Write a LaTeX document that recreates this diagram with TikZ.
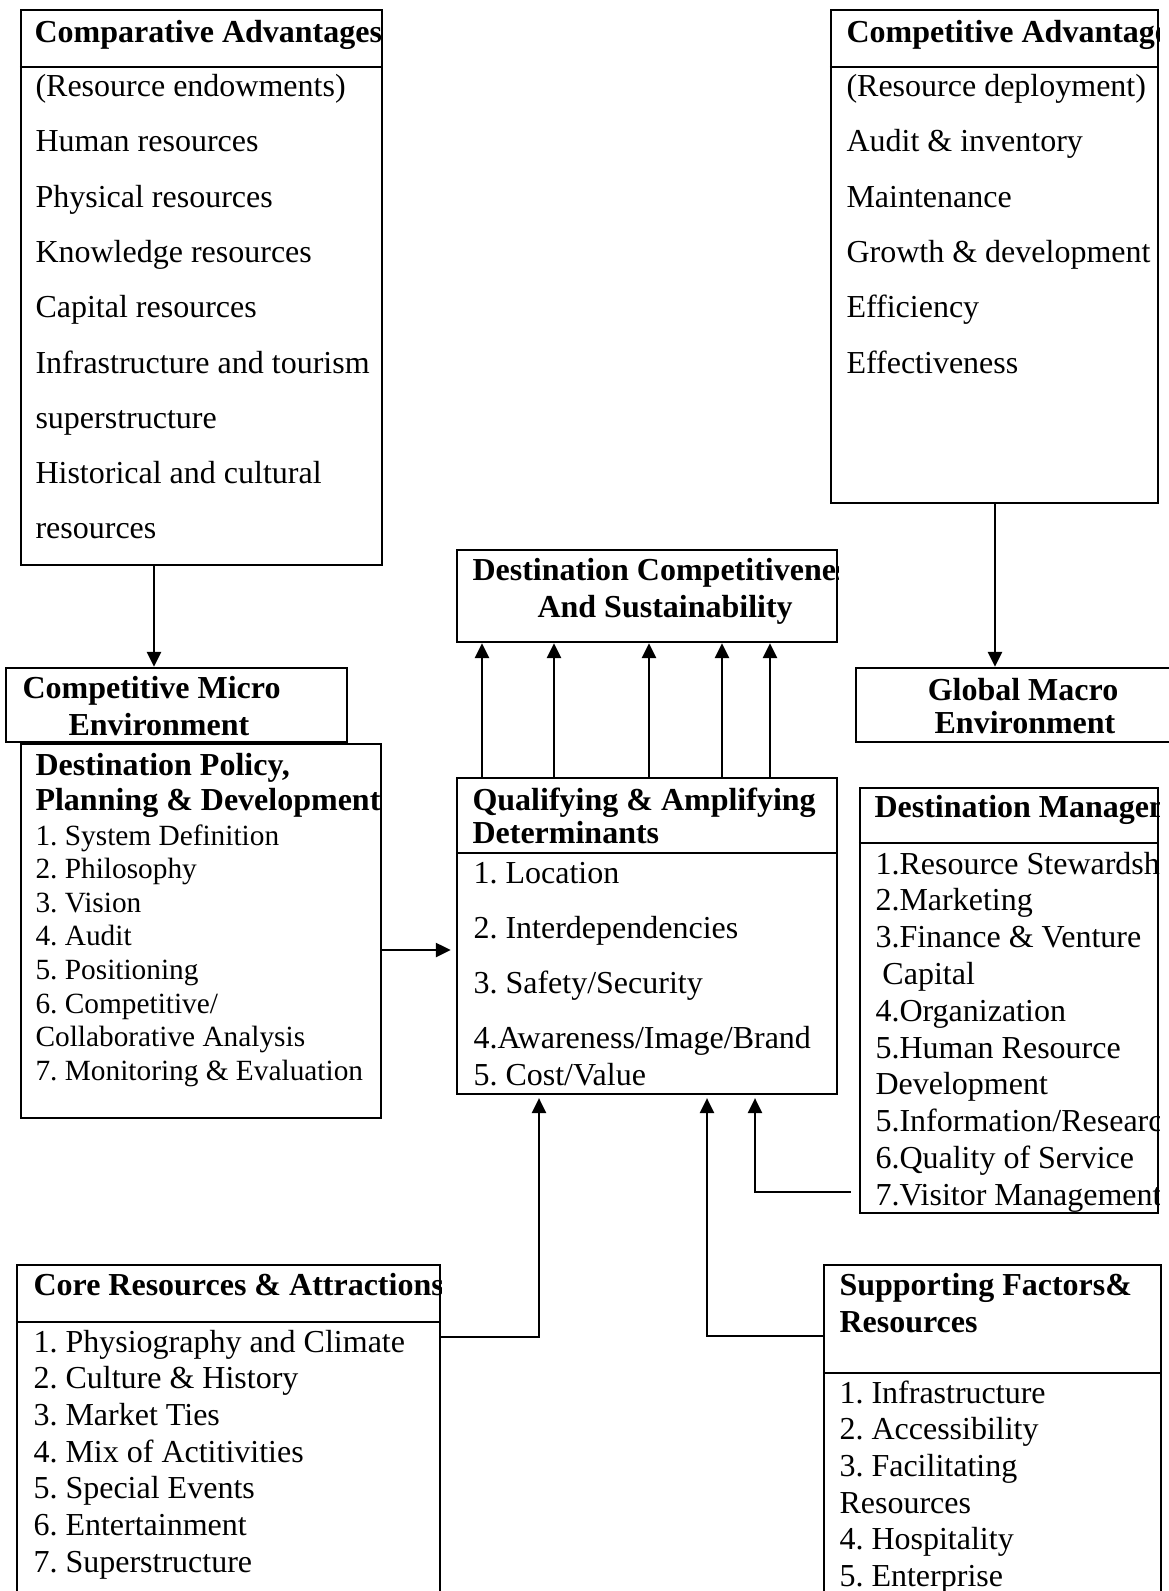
\documentclass[tikz,border=0pt]{standalone}
\usepackage{fontspec}
\setmainfont{Liberation Serif}
\usetikzlibrary{arrows.meta,fit}
\begin{document}
\frenchspacing
\begin{tikzpicture}[x=0.375pt,y=-0.375pt,
  box/.style={draw,line width=0.9pt,inner sep=0pt},
  rule/.style={line width=0.9pt},
  body/.style={anchor=base west,inner sep=0pt,font=\fontsize{12}{14}\selectfont},
  head/.style={body,font=\fontsize{12}{14}\selectfont\bfseries},
  small/.style={body,font=\fontsize{11}{13}\selectfont},
  arr/.style={line width=0.75pt,-{Triangle[length=5.6pt,width=5.3pt]}},
]
\useasboundingbox (0,0) rectangle (1169,1591);
\clip (0,0) rectangle (1169,1591);

% ---------- boxes ----------
\node[box,fit={(21,10) (382,565)}]    (A) {};
\node[box,fit={(831,10) (1158,503)}]  (B) {};
\node[box,fit={(6,668) (347,742)}]    (C) {};
\node[box,fit={(21,744) (381,1118)}]  (D) {};
\node[box,fit={(457,550) (837,642)}]  (E) {};
\node[box,fit={(457,778) (837,1094)}] (F) {};
\node[box,fit={(856,668) (1190,742)}] (G) {};
\node[box,fit={(860,788) (1158,1213)}] (H) {};
\node[box,fit={(17,1265) (440,1620)}] (I) {};
\node[box,fit={(824,1265) (1161,1620)}] (J) {};

% header rules
\coordinate (dA) at (0,67);
\coordinate (dF) at (0,853);
\coordinate (dH) at (0,843);
\coordinate (dI) at (0,1322);
\coordinate (dJ) at (0,1373);
\draw[rule] (A.west |- dA) -- (A.east |- dA);
\draw[rule] (B.west |- dA) -- (B.east |- dA);
\draw[rule] (F.west |- dF) -- (F.east |- dF);
\draw[rule] (H.west |- dH) -- (H.east |- dH);
\draw[rule] (I.west |- dI) -- (I.east |- dI);
\draw[rule] (J.west |- dJ) -- (J.east |- dJ);

% ---------- Comparative advantages ----------
\begin{scope}
\clip (A.north west) rectangle (A.south east);
\node[head] (a0) at (34,42) {Comparative Advantages};
\foreach \t [count=\i] in {{(Resource endowments)},Human resources,Physical resources,
  Knowledge resources,Capital resources,Infrastructure and tourism,superstructure,
  Historical and cultural,resources}
  \node[body] (a\i) at (35,{41.2+55.3*\i}) {\t};
\end{scope}

% ---------- Competitive advantages ----------
\begin{scope}
\clip (B.north west) rectangle (B.south east);
\node[head] (b0) at (846,42) {Competitive Advantages};
\foreach \t [count=\i] in {{(Resource deployment)},Audit \& inventory,Maintenance,
  Growth \& development,Efficiency,Effectiveness}
  \node[body] (b\i) at (846,{41.2+55.3*\i}) {\t};
\end{scope}

% ---------- Competitive micro environment ----------
\node[head] (c0) at (22,698) {Competitive Micro};
\node[head] (c1) at (68,735) {Environment};

% ---------- Destination policy ----------
\begin{scope}
\clip (D.north west) rectangle (D.south east);
\node[head] (d0) at (35,775) {Destination Policy,};
\node[head] (d1) at (35,810) {Planning \& Development};
\foreach \t [count=\i] in {1. System Definition,2. Philosophy,3. Vision,4. Audit,
  5. Positioning,6. Competitive/,Collaborative Analysis,7. Monitoring \& Evaluation}
  \node[small] (dd\i) at (35,{811.4+33.6*\i}) {\t};
\end{scope}

% ---------- Destination competitiveness ----------
\begin{scope}
\clip (E.north west) rectangle (E.south east);
\node[head] (e0) at (472,580) {Destination Competitiveness};
\node[head] (e1) at (537,617) {And Sustainability};
\end{scope}

% ---------- Qualifying determinants ----------
\node[head] (f0) at (472,810) {Qualifying \& Amplifying};
\node[head] (f1) at (472,843) {Determinants};
\node[body] (f2) at (473,883) {1. Location};
\node[body] (f3) at (473,938) {2. Interdependencies};
\node[body] (f4) at (473,993) {3. Safety/Security};
\node[body] (f5) at (473,1048) {4.Awareness/Image/Brand};
\node[body] (f6) at (473,1085) {5. Cost/Value};

% ---------- Global macro environment ----------
\node[head,anchor=base] (g0) at (1023,700) {Global Macro};
\node[head,anchor=base] (g1) at (1025,733) {Environment};

% ---------- Destination management ----------
\begin{scope}
\clip (H.north west) rectangle (H.south east);
\node[head] (h0) at (874,817) {Destination Management};
\foreach \t [count=\i] in {1.Resource Stewardship,2.Marketing,3.Finance \& Venture,
  {\hspace{2.6pt}Capital},4.Organization,5.Human Resource,Development,
  5.Information/Research,6.Quality of Service,7.Visitor Management}
  \node[body] (h\i) at (875,{837.2+36.8*\i}) {\t};
\end{scope}

% ---------- Core resources ----------
\begin{scope}
\clip (I.north west) rectangle (I.south east);
\node[head] (i0) at (33,1295) {Core Resources \& Attractions};
\foreach \t [count=\i] in {1. Physiography and Climate,2. Culture \& History,
  3. Market Ties,4. Mix of Actitivities,5. Special Events,6. Entertainment,
  7. Superstructure}
  \node[body] (i\i) at (33,{1315.3+36.7*\i}) {\t};
\end{scope}

% ---------- Supporting factors ----------
\node[head] (j0) at (839,1295) {Supporting Factors\&};
\node[head] (j1) at (839,1332) {Resources};
\foreach \t [count=\i] in {1. Infrastructure,2. Accessibility,3. Facilitating,
  Resources,4. Hospitality,5. Enterprise}
  \node[body] (jj\i) at (839,{1366.3+36.7*\i}) {\t};

% ---------- connectors ----------
\coordinate (xA) at (154,0);
\coordinate (xB) at (995,0);
\coordinate (yD) at (0,950);
\draw[arr] (A.south -| xA) -- (C.north -| xA);
\draw[arr] (B.south -| xB) -- (G.north -| xB);
\draw[arr,shorten >=1.9pt] (D.east |- yD) -- (F.west |- yD);

\foreach \x in {482,554,649,722,770}{
  \coordinate (t) at (\x,0);
  \draw[arr] (F.north -| t) -- (E.south -| t);
}

\coordinate (xI) at (539,0);
\coordinate (yI) at (0,1337);
\coordinate (xJ) at (707,0);
\coordinate (yJ) at (0,1336);
\coordinate (xH) at (755,0);
\coordinate (yH) at (0,1192);
\draw[arr,shorten >=1.1pt] (I.east |- yI) -| (F.south -| xI);
\draw[arr,shorten >=1.1pt] (J.west |- yJ) -| (F.south -| xJ);
\draw[arr,shorten <=3pt,shorten >=1.1pt] (H.west |- yH) -| (F.south -| xH);
\end{tikzpicture}
\end{document}
